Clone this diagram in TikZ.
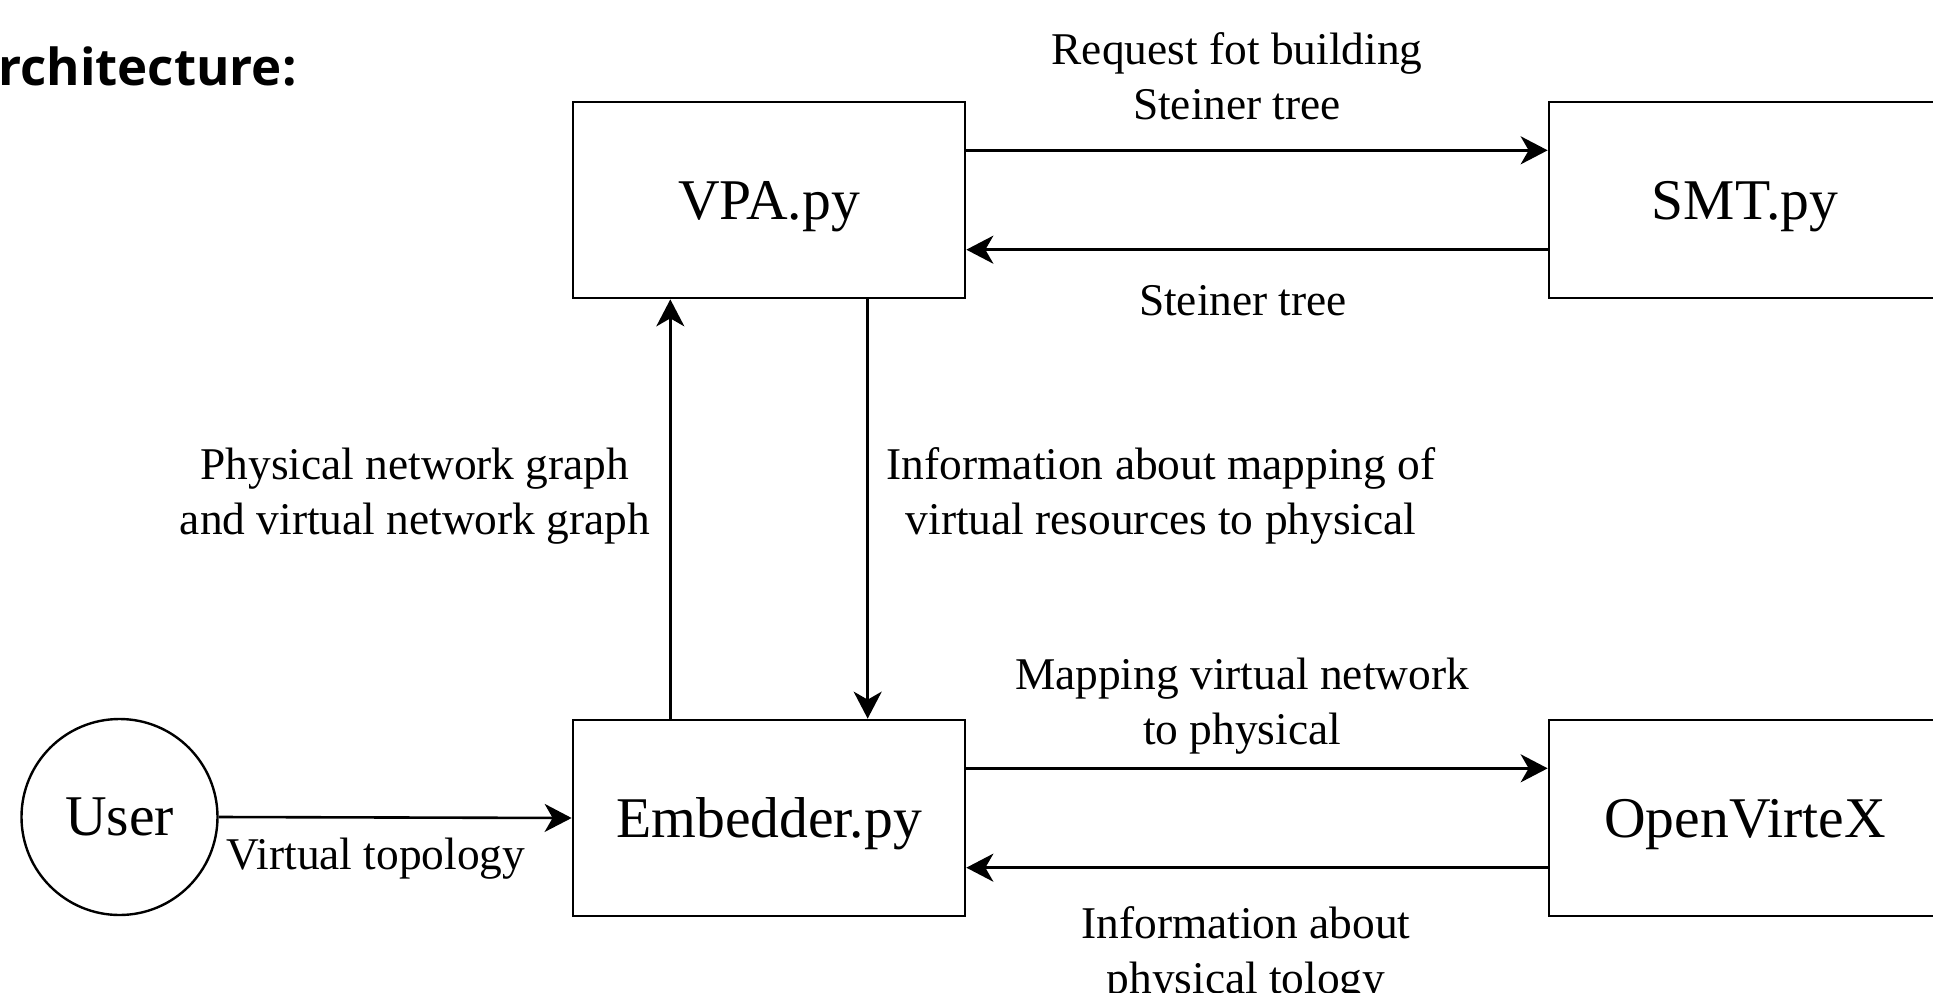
\documentclass[tikz,border=0pt]{standalone}
\usepackage{fontspec}
\setmainfont{Liberation Serif}
\newfontfamily\headfont{Open Sans}
\usetikzlibrary{arrows.meta,calc}
\begin{document}
\begin{tikzpicture}[x=1pt,y=-1pt,
  box/.style={draw, line width=2.7pt, minimum width=392pt, minimum height=196pt,
    inner sep=0pt, text depth=0pt, font=\fontsize{57.6}{69}\selectfont},
  usr/.style={draw, circle, line width=2.4pt, minimum size=196pt, inner sep=0pt,
    font=\fontsize{57.6}{69}\selectfont},
  lbl/.style={align=center, inner sep=0pt, font=\fontsize{45.4}{54.6}\selectfont},
  arr/.style={line width=2.6pt, -{Stealth[length=27pt, width=28pt, inset=8pt]}},
]
\useasboundingbox (0,0) rectangle (1933,993);
\clip (0,0) rectangle (1933,993);

% heading
\node[anchor=base west, inner sep=0pt, font=\headfont\bfseries\fontsize{51}{60}\selectfont]
  (head) at (-2,85) {rchitecture:};

% blocks
\node[box] (vpa) at (769,200) {VPA.py};
\node[box] (smt) at (1745,200) {SMT.py};
\node[box] (emb) at (769,818) {Embedder.py};
\node[box] (ovx) at (1745,818) {OpenVirteX};
\node[usr] (user) at (119.5,817) {User};

% connectors
\draw[arr] ($(vpa.north east)!0.25!(vpa.south east)$) -- ($(smt.north west)!0.25!(smt.south west)$);
\draw[arr] ($(smt.north west)!0.75!(smt.south west)$) -- ($(vpa.north east)!0.75!(vpa.south east)$);
\draw[arr] ($(emb.north east)!0.25!(emb.south east)$) -- ($(ovx.north west)!0.25!(ovx.south west)$);
\draw[arr] ($(ovx.north west)!0.75!(ovx.south west)$) -- ($(emb.north east)!0.75!(emb.south east)$);
\draw[arr] ($(emb.north west)!0.25!(emb.north east)$) -- ($(vpa.south west)!0.25!(vpa.south east)$);
\draw[arr] ($(vpa.south west)!0.75!(vpa.south east)$) -- ($(emb.north west)!0.75!(emb.north east)$);
\draw[arr] (user.east) -- (emb.west);

% connector labels
\node[lbl] (lreq) at (1237,76) {Request fot building\\Steiner tree};
\node[lbl] (lst) at (1243,301) {Steiner tree};
\node[lbl] (lphys) at (415,496) {Physical network graph\\and virtual network graph};
\node[lbl] (linfo) at (1161,496) {Information about mapping of\\virtual resources to physical};
\node[lbl] (lmap) at (1242,706) {Mapping virtual network\\to physical};
\node[lbl] (ltol) at (1246,955) {Information about\\physical tology};
\node[lbl] (lvt) at (376,859) {Virtual topology};
\end{tikzpicture}
\end{document}
